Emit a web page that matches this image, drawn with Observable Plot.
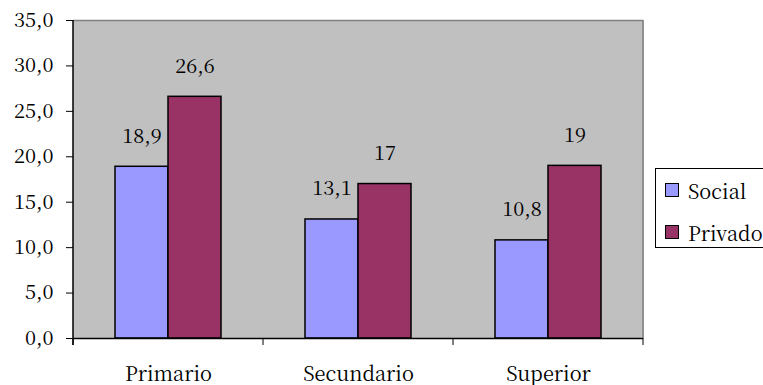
<!DOCTYPE html>
<html>
<head>
<meta charset="utf-8">
<script src="https://cdn.jsdelivr.net/npm/d3@7"></script>
<script src="https://cdn.jsdelivr.net/npm/@observablehq/plot@0.6"></script>
<style>
  html, body { margin: 0; padding: 0; background: #fff; overflow: hidden; }
  #wrap { position: relative; width: 763px; height: 385px; }
  #legend {
    position: absolute; left: 655px; top: 168px; width: 120px; height: 80px;
    border: 1px solid #000; background: #fff; box-sizing: border-box;
    font-family: 'Noto Serif CJK SC', 'Liberation Serif', serif; font-size: 20px; color: #000;
  }
  .item { position: absolute; left: 9px; height: 22px; display: flex; align-items: center; white-space: nowrap; }
  .sw { width: 14px; height: 14px; border: 1.5px solid #000; margin-right: 9px; box-sizing: border-box; }
</style>
</head>
<body>
<div id="wrap"></div>
<script>
const categories = ["Primario", "Secundario", "Superior"];
const series = ["Social", "Privado"];
const socialValues = [18.9, 13.1, 10.8];
const privadoValues = [26.6, 17.0, 19.0];
const socialLabels = ["18,9", "13,1", "10,8"];
const privadoLabels = ["26,6", "17", "19"];
const yTicks = [0, 5, 10, 15, 20, 25, 30, 35];
const colors = ["#9999FF", "#993366"];

const rows = [];
categories.forEach((c, i) => {
  rows.push({category: c, series: "Social", value: socialValues[i], label: socialLabels[i]});
  rows.push({category: c, series: "Privado", value: privadoValues[i], label: privadoLabels[i]});
});

const FONT = "'Noto Serif CJK SC', 'Liberation Serif', serif";

const plot = Plot.plot({
  width: 763,
  height: 385,
  marginLeft: 73,
  marginRight: 120,
  marginTop: 20,
  marginBottom: 47,
  style: {fontFamily: FONT, fontSize: "20px", background: "#fff", color: "#000"},
  fx: {domain: categories, padding: 0, label: null, axis: "bottom", tickSize: 0, tickPadding: 28},
  x: {domain: series, paddingInner: 0, paddingOuter: 0.76, align: 0.5, axis: null},
  y: {domain: [0, 35], ticks: yTicks, tickFormat: d => d.toFixed(1).replace(".", ","), tickSize: 7, tickPadding: 13, label: null},
  color: {domain: series, range: colors},
  marks: [
    Plot.frame({fill: "#C0C0C0", stroke: "#C0C0C0", strokeWidth: 1}),
    Plot.ruleY([35], {stroke: "#808080", strokeWidth: 1.5}),
    Plot.barY(rows, {fx: "category", x: "series", y: "value", fill: "series", stroke: "#000", strokeWidth: 1.5}),
    Plot.text(rows, {fx: "category", x: "series", y: "value", text: "label", lineAnchor: "bottom", dy: -24, fontSize: 20}),
    Plot.ruleY([0], {stroke: "#000", strokeWidth: 1.5})
  ]
});

document.getElementById("wrap").appendChild(plot);

// Excel-style axis lines and category boundary ticks, derived from Plot's scales
const fx = plot.scale("fx");
const y = plot.scale("y");
const svg = d3.select(plot);
const bounds = categories.map(c => fx.apply(c)).concat([fx.apply(categories[categories.length - 1]) + fx.bandwidth]);
const y0 = y.apply(0), y1 = y.apply(35);
const left = bounds[0], right = bounds[bounds.length - 1];
svg.append("line").attr("x1", right).attr("x2", right).attr("y1", y1).attr("y2", y0)
  .attr("stroke", "#808080").attr("stroke-width", 1.5);
svg.append("line").attr("x1", left).attr("x2", left).attr("y1", y1).attr("y2", y0 + 7)
  .attr("stroke", "#000").attr("stroke-width", 1.5);
svg.selectAll("line.xt").data(bounds).join("line").attr("class", "xt")
  .attr("x1", d => d).attr("x2", d => d).attr("y1", y0).attr("y2", y0 + 7)
  .attr("stroke", "#000").attr("stroke-width", 1);

// legend
const legend = document.createElement("div");
legend.id = "legend";
series.forEach((s, i) => {
  const item = document.createElement("div");
  item.className = "item";
  item.style.top = (10 + i * 42) + "px";
  const sw = document.createElement("span");
  sw.className = "sw";
  sw.style.background = colors[i];
  const t = document.createElement("span");
  t.textContent = s;
  item.appendChild(sw);
  item.appendChild(t);
  legend.appendChild(item);
});
document.getElementById("wrap").appendChild(legend);
</script>
</body>
</html>
